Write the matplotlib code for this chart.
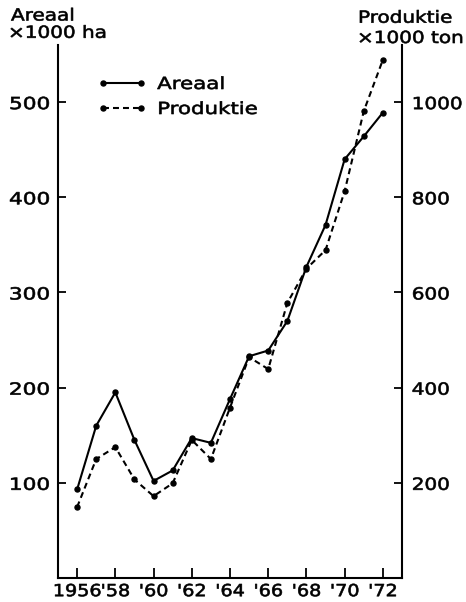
import matplotlib
matplotlib.use("Agg")
import matplotlib.pyplot as plt
from matplotlib.lines import Line2D
from matplotlib.patheffects import AbstractPathEffect
from matplotlib.transforms import Affine2D

# Area (x1000 ha) and production (x1000 ton), 1956-1972
years = list(range(1956, 1973))
areaal = [93, 160, 195, 145, 102, 113, 147, 142, 188, 233, 239, 270, 327, 371, 440, 464, 489]
produktie = [149, 250, 275, 207, 172, 199, 290, 250, 358, 464, 439, 578, 650, 689, 813, 981, 1089]

x_ticks = [1956, 1958, 1960, 1962, 1964, 1966, 1968, 1970, 1972]
x_labels = ["1956", "'58", "'60", "'62", "'64", "'66", "'68", "'70", "'72"]
left_ticks = [100, 200, 300, 400, 500]
right_ticks = [200, 400, 600, 800, 1000]


class WideText(AbstractPathEffect):
    """Draw glyphs stretched horizontally and slightly emboldened."""

    def __init__(self, sx=1.3, anchor="left", stroke=0.45):
        super().__init__()
        self.sx = sx
        self.anchor = anchor
        self.stroke = stroke

    def draw_path(self, renderer, gc, tpath, affine, rgbFace=None):
        ext = tpath.get_extents()
        if self.anchor == "right":
            x0 = ext.x1
        elif self.anchor == "center":
            x0 = 0.5 * (ext.x0 + ext.x1)
        else:
            x0 = 0.0
        stretch = Affine2D().translate(-x0, 0).scale(self.sx, 1.0).translate(x0, 0)
        gc0 = renderer.new_gc()
        gc0.copy_properties(gc)
        gc0.set_linewidth(self.stroke)
        gc0.set_joinstyle("round")
        if rgbFace is not None:
            gc0.set_foreground(rgbFace)
        renderer.draw_path(gc0, tpath, stretch + affine, rgbFace)
        gc0.restore()


plt.rcParams["font.family"] = "DejaVu Sans"
plt.rcParams["lines.scale_dashes"] = False

W, H = 466, 602
fig = plt.figure(figsize=(W / 100, H / 100), dpi=100)
ax = fig.add_axes([58 / W, 1 - 578 / H, (402 - 58) / W, (578 - 45) / H])
ax2 = ax.twinx()

ax.set_xlim(1955, 1973)
ax.set_ylim(0, 560)
ax2.set_ylim(0, 1120)

lw = 1.5
ms = 3.6
dash = (0, (4.3, 2.9))
ax.plot(years, areaal, color="black", lw=lw, marker="o", ms=ms)
ax2.plot(years, produktie, color="black", lw=lw, marker="o", ms=ms, linestyle=dash)

for a in (ax, ax2):
    a.spines["top"].set_visible(False)
ax.spines["right"].set_visible(False)
ax2.spines["left"].set_visible(False)
ax2.spines["bottom"].set_visible(False)
for s in ("left", "bottom"):
    ax.spines[s].set_linewidth(1.5)
ax2.spines["right"].set_linewidth(1.5)

fs = 12
ax.set_xticks(x_ticks)
ax.set_xticklabels(x_labels)
ax.set_yticks(left_ticks)
ax2.set_yticks(right_ticks)
ax.tick_params(axis="x", direction="in", length=7, width=1.3, pad=3, labelsize=fs)
ax.tick_params(axis="y", direction="in", length=6, width=1.3, pad=6, labelsize=fs)
ax2.tick_params(axis="y", direction="in", length=6, width=1.3, pad=7, labelsize=fs)

t1 = fig.text(11 / W, 1 - 20.5 / H, "Areaal", fontsize=fs, ha="left", va="baseline")
t2 = fig.text(8 / W, 1 - 37.8 / H, "×1000 ha", fontsize=fs, ha="left", va="baseline")
t3 = fig.text(358 / W, 1 - 22.7 / H, "Produktie", fontsize=fs, ha="left", va="baseline")
t4 = fig.text(357 / W, 1 - 43 / H, "×1000 ton", fontsize=fs, ha="left", va="baseline")
for t in (t1, t2, t3, t4):
    t.set_path_effects([WideText(1.2, "left")])

handles = [
    Line2D([], [], color="black", lw=lw, marker="o", ms=ms),
    Line2D([], [], color="black", lw=lw, marker="o", ms=ms, linestyle=dash),
]
leg = ax2.legend(handles, ["Areaal", "Produktie"], frameon=False, numpoints=2,
                 loc="upper left", bbox_to_anchor=(98 / W, 1 - 75 / H),
                 bbox_transform=fig.transFigure, borderpad=0, borderaxespad=0,
                 handlelength=2.9, handletextpad=0.65, labelspacing=0.42,
                 fontsize=fs)
for t in leg.get_texts():
    t.set_path_effects([WideText(1.28, "left")])

fig.canvas.draw()
for lbl in ax.get_xticklabels():
    lbl.set_path_effects([WideText(1.15, "center")])
for lbl in ax.get_yticklabels():
    lbl.set_path_effects([WideText(1.3, "right")])
for lbl in ax2.get_yticklabels():
    lbl.set_path_effects([WideText(1.2, "left")])

fig.savefig("out.png", dpi=100)
